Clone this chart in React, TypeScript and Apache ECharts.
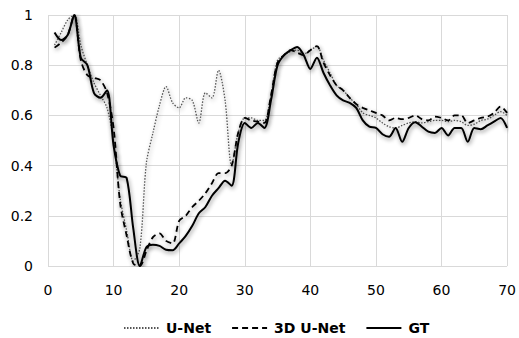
import React, { useEffect, useRef } from "react";
import * as echarts from "echarts";

const xValues: number[] = Array.from({ length: 70 }, (_, i) => i + 1);

const unet: number[] = [
  0.88, 0.93, 0.98, 1.0, 0.88, 0.8, 0.73, 0.68, 0.63, 0.5,
  0.27, 0.14, 0.02, 0.07, 0.41, 0.53, 0.64, 0.715, 0.65, 0.63,
  0.67, 0.66, 0.57, 0.69, 0.67, 0.78, 0.66, 0.4, 0.53, 0.59,
  0.59, 0.58, 0.58, 0.68, 0.82, 0.84, 0.855, 0.86, 0.845, 0.86,
  0.875, 0.82, 0.77, 0.72, 0.7, 0.67, 0.645, 0.61, 0.6, 0.59,
  0.57, 0.555, 0.55, 0.56, 0.57, 0.575, 0.57, 0.575, 0.58, 0.58,
  0.575, 0.58, 0.575, 0.56, 0.565, 0.58, 0.585, 0.6, 0.615, 0.6,
];

const unet3d: number[] = [
  0.87, 0.89, 0.92, 1.0, 0.82, 0.76, 0.75, 0.74, 0.69, 0.55,
  0.25, 0.12, 0.01, 0.0, 0.06, 0.115, 0.13, 0.1, 0.09, 0.18,
  0.2, 0.235, 0.26, 0.29, 0.33, 0.37, 0.37, 0.4, 0.53, 0.59,
  0.58, 0.575, 0.57, 0.68, 0.81, 0.84, 0.86, 0.85, 0.84, 0.86,
  0.876, 0.81, 0.76, 0.72, 0.7, 0.67, 0.645, 0.63, 0.62, 0.61,
  0.6, 0.58, 0.59, 0.585, 0.59, 0.6, 0.585, 0.58, 0.595, 0.59,
  0.58, 0.6, 0.6, 0.57, 0.58, 0.59, 0.595, 0.61, 0.635, 0.61,
];

const gt: number[] = [
  0.93, 0.9, 0.92, 1.0, 0.83, 0.8, 0.69, 0.67, 0.7, 0.48,
  0.36, 0.35, 0.15, 0.0, 0.075, 0.085, 0.08, 0.065, 0.063, 0.09,
  0.12, 0.16, 0.21, 0.235, 0.28, 0.31, 0.34, 0.32, 0.49, 0.57,
  0.55, 0.57, 0.55, 0.66, 0.8, 0.84, 0.86, 0.873, 0.84, 0.785,
  0.83, 0.77, 0.72, 0.68, 0.66, 0.65, 0.63, 0.58, 0.555, 0.55,
  0.525, 0.515, 0.55, 0.495, 0.55, 0.573, 0.555, 0.535, 0.53, 0.55,
  0.52, 0.55, 0.55, 0.495, 0.55, 0.545, 0.56, 0.575, 0.59, 0.55,
];

const seriesNames = ["U-Net", "3D U-Net", "GT"];

const pairs = (ys: number[]) => xValues.map((x, i) => [x, ys[i]]);

export default function App() {
  const ref = useRef<HTMLDivElement>(null);
  useEffect(() => {
    if (!ref.current) return;
    const chart = echarts.init(ref.current, null, { renderer: "svg" });
    const font = "'DejaVu Sans', Verdana, sans-serif";
    const shadow = {
      shadowColor: "rgba(0,0,0,0.45)",
      shadowBlur: 4,
      shadowOffsetX: 1,
      shadowOffsetY: 2,
    };
    chart.setOption({
      animation: false,
      backgroundColor: "#ffffff",
      grid: { left: 48, right: 11, top: 15, bottom: 72, containLabel: false },
      legend: {
        left: 118,
        top: 316,
        itemWidth: 35,
        itemHeight: 14,
        itemGap: 20,
        data: seriesNames,
        itemStyle: { opacity: 0 },
        textStyle: {
          fontFamily: font,
          fontSize: 14,
          fontWeight: "bold",
          color: "#000",
          padding: [0, 0, 0, 2],
        },
      },
      xAxis: {
        type: "value",
        min: 0,
        max: 70,
        interval: 10,
        axisLine: { show: false },
        axisTick: { show: false },
        axisLabel: { fontFamily: font, fontSize: 14, color: "#000", margin: 17 },
        splitLine: { show: true, lineStyle: { color: "#d9d9d9", width: 1 } },
      },
      yAxis: {
        type: "value",
        min: 0,
        max: 1,
        interval: 0.2,
        axisLine: { show: false },
        axisTick: { show: false },
        axisLabel: { fontFamily: font, fontSize: 14, color: "#000", margin: 15 },
        splitLine: { show: true, lineStyle: { color: "#d9d9d9", width: 1 } },
      },
      series: [
        {
          name: seriesNames[0],
          type: "line",
          data: pairs(unet),
          smooth: 0.3,
          symbol: "none",
          lineStyle: { color: "#555", width: 1.3, type: [1.5, 1.5], ...shadow },
          itemStyle: { color: "#555" },
        },
        {
          name: seriesNames[1],
          type: "line",
          data: pairs(unet3d),
          smooth: 0.3,
          symbol: "none",
          lineStyle: { color: "#000", width: 1.8, type: [6, 4], ...shadow },
          itemStyle: { color: "#000" },
        },
        {
          name: seriesNames[2],
          type: "line",
          data: pairs(gt),
          smooth: 0.3,
          symbol: "none",
          lineStyle: { color: "#000", width: 2, type: "solid", ...shadow },
          itemStyle: { color: "#000" },
        },
      ],
    });
    return () => chart.dispose();
  }, []);
  return (
    <div
      ref={ref}
      style={{ position: "fixed", left: 0, top: 0, width: 519, height: 338 }}
    />
  );
}
